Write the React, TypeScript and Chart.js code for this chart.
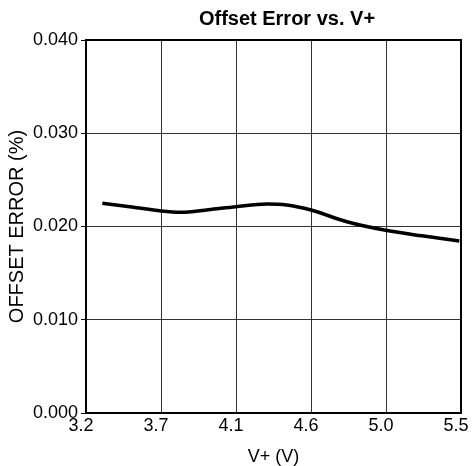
import React, { useEffect, useRef } from "react";
import { Chart, registerables } from "chart.js";

Chart.register(...registerables);

const voltage = [3.3, 3.48, 3.66, 3.78, 3.95, 4.12, 4.31, 4.43, 4.58, 4.8, 5.03, 5.26, 5.49];
const offsetError = [0.0225, 0.0221, 0.02166, 0.02152, 0.0218, 0.02213, 0.02241, 0.02231, 0.02177, 0.02051, 0.01962, 0.019, 0.01845];
const xTickValues = [3.2, 3.66, 4.12, 4.58, 5.04, 5.5];
const xTickLabels = ["3.2", "3.7", "4.1", "4.6", "5.0", "5.5"];
const yTickValues = [0, 0.01, 0.02, 0.03, 0.04];
const yTickLabels = ["0.000", "0.010", "0.020", "0.030", "0.040"];
const chartTitle = "Offset Error vs. V+";
const xTitle = "V+ (V)";
const yTitle = "OFFSET ERROR (%)";

const FONT = "'Liberation Sans', Arial, Helvetica, sans-serif";

export default function App() {
  const ref = useRef<HTMLCanvasElement | null>(null);
  useEffect(() => {
    if (!ref.current) return;
    const titlePlugin = {
      id: "customTitle",
      afterDraw(chart: any) {
        const { ctx, chartArea } = chart;
        ctx.save();
        ctx.strokeStyle = "#000";
        ctx.lineWidth = 2;
        ctx.strokeRect(chartArea.left, chartArea.top, chartArea.right - chartArea.left, chartArea.bottom - chartArea.top);
        ctx.fillStyle = "#000";
        ctx.font = `bold 20px ${FONT}`;
        ctx.textAlign = "center";
        ctx.textBaseline = "middle";
        ctx.fillText(chartTitle, 287, 19);
        ctx.restore();
      },
    };
    const chart = new Chart(ref.current, {
      type: "line",
      data: {
        datasets: [
          {
            data: voltage.map((v, i) => ({ x: v, y: offsetError[i] })),
            borderColor: "#000",
            borderWidth: 3.5,
            pointRadius: 0,
            cubicInterpolationMode: "monotone",
            fill: false,
          },
        ],
      },
      options: {
        animation: false,
        responsive: false,
        layout: { padding: { top: 40, right: 11, bottom: 0, left: 0 } },
        plugins: { legend: { display: false }, tooltip: { enabled: false }, title: { display: false } },
        scales: {
          x: {
            type: "linear",
            min: 3.2,
            max: 5.5,
            afterBuildTicks: (scale: any) => {
              scale.ticks = xTickValues.map((v) => ({ value: v }));
            },
            afterFit: (scale: any) => {
              scale.height = 53;
              scale.paddingLeft = 0;
              scale.paddingRight = 0;
            },
            ticks: {
              autoSkip: false,
              maxRotation: 0,
              padding: 2,
              labelOffset: -5,
              color: "#000",
              font: { family: FONT, size: 18 },
              callback: (_v: any, i: number) => xTickLabels[i],
            },
            grid: { color: "#333", lineWidth: 1, drawTicks: false },
            border: { color: "#000", width: 2 },
            title: {
              display: true,
              text: xTitle,
              color: "#000",
              font: { family: FONT, size: 18, lineHeight: 1 },
              padding: { top: 0, bottom: 0 },
            },
          },
          y: {
            type: "linear",
            min: 0,
            max: 0.04,
            afterBuildTicks: (scale: any) => {
              scale.ticks = yTickValues.map((v) => ({ value: v }));
            },
            afterFit: (scale: any) => {
              scale.width = 86;
              scale.paddingTop = 0;
              scale.paddingBottom = 0;
            },
            ticks: {
              autoSkip: false,
              padding: 3,
              color: "#000",
              font: { family: FONT, size: 18 },
              callback: (_v: any, i: number) => yTickLabels[i],
            },
            grid: { color: "#333", lineWidth: 1, drawTicks: true, tickLength: 5, tickColor: "#000" },
            border: { color: "#000", width: 2 },
            title: {
              display: true,
              text: yTitle,
              color: "#000",
              font: { family: FONT, size: 20, lineHeight: 1 },
              padding: { top: 7, bottom: 0 },
            },
          },
        },
      },
      plugins: [titlePlugin],
    } as any);
    return () => chart.destroy();
  }, []);
  return (
    <div style={{ position: "absolute", left: 0, top: 0, width: 472, height: 466, background: "#fff" }}>
      <canvas ref={ref} width={472} height={466} />
    </div>
  );
}
